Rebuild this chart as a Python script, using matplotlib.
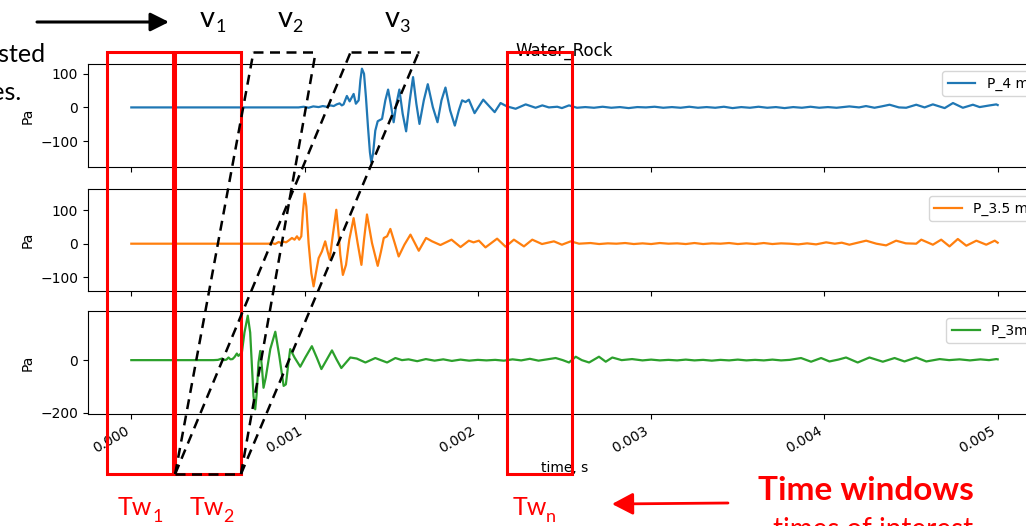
import numpy as np
import matplotlib
matplotlib.use("Agg")
import matplotlib.pyplot as plt
from matplotlib.patches import Rectangle
from matplotlib.transforms import blended_transform_factory

# ---------------------------------------------------------------------------
# Pressure traces: time in microseconds, pressure in Pa
# ---------------------------------------------------------------------------
t_p4_us = [0, 500, 965, 995, 1023, 1050, 1081, 1105, 1127, 1150,
           1168, 1185, 1202, 1215, 1225, 1244, 1260, 1283, 1296, 1312,
           1322, 1331, 1343, 1354, 1366, 1377, 1385, 1395, 1408, 1422,
           1447, 1466, 1482, 1497, 1514, 1530, 1547, 1566, 1586, 1607,
           1626, 1645, 1663, 1688, 1711, 1740, 1767, 1790, 1813, 1840,
           1867, 1890, 1909, 1929, 1948, 1981, 2031, 2097, 2131, 2168,
           2218, 2276, 2333, 2372, 2410, 2458, 2485, 2526, 2572, 2620,
           2670, 2720, 2770, 2820, 2870, 2920, 2970, 3020, 3070, 3120,
           3170, 3220, 3270, 3320, 3370, 3420, 3470, 3520, 3570, 3620,
           3670, 3720, 3770, 3820, 3870, 3920, 3970, 4020, 4070, 4144,
           4200, 4240, 4289, 4330, 4376, 4430, 4472, 4530, 4578, 4626,
           4694, 4742, 4799, 4857, 4896, 4954, 4992, 5000]
p4_pa = [0, 0, 0, 2, -1, 3, 1, 4, 2, 6,
         4, 9, 12, 6, 9, 34, 18, 40, 11, 21,
         81, 115, 100, 31, -59, -133, -163, -138, -69, -41,
         -34, 21, 53, 11, -44, 11, 53, -19, -71, 21,
         90, 11, -49, 21, 69, 1, -44, 21, 59, -9,
         -54, -9, 21, 16, 23, -17, 23, -14, 13, 3,
         -4, 9, -1, 6, 0, 2, -2, 6, -1, 1,
         -1, 2, -1, 1, -2, 1, 0, 2, -1, 1,
         -1, 2, -1, 1, -1, 2, -2, 1, -1, 2,
         -1, 1, -2, 1, -1, 2, -1, 1, -1, 3,
         0, 4, -1, 3, 8, 0, -1, 8, 0, 9,
         -2, 13, -1, 8, 1, 6, 9, 7]

t_p35_us = [0, 500, 792, 811, 830, 850, 865, 879, 893, 907,
            927, 942, 956, 969, 981, 990, 1000, 1010, 1023, 1039,
            1052, 1065, 1081, 1100, 1119, 1133, 1145, 1162, 1183, 1196,
            1206, 1221, 1239, 1258, 1283, 1306, 1328, 1343, 1360, 1389,
            1422, 1441, 1457, 1476, 1495, 1520, 1543, 1576, 1611, 1659,
            1701, 1736, 1784, 1848, 1900, 1948, 1975, 2006, 2044, 2111,
            2160, 2208, 2266, 2314, 2370, 2439, 2485, 2536, 2584, 2650,
            2700, 2750, 2800, 2850, 2900, 2950, 3000, 3050, 3100, 3150,
            3200, 3250, 3300, 3350, 3400, 3450, 3500, 3550, 3600, 3650,
            3700, 3750, 3800, 3850, 3900, 3952, 4010, 4060, 4100, 4144,
            4241, 4300, 4356, 4414, 4470, 4530, 4559, 4626, 4674, 4722,
            4770, 4819, 4877, 4934, 4983, 5000]
p35_pa = [0, 0, 0, 2, -1, 5, 2, 6, 4, 9,
          17, 12, 22, 12, 22, 91, 149, 111, 2, -88,
          -127, -88, -43, -23, 7, -23, -46, 22, 101, 32,
          -33, -93, -63, 12, 76, 2, -63, 12, 87, 2,
          -66, -23, 17, 22, 44, 2, -38, -3, 27, -21,
          17, 7, -4, 12, -10, 9, 4, 9, -11, 15,
          -9, 12, -8, 12, -1, 7, -3, 7, 0, 2,
          -1, 1, 0, 2, -1, 1, -1, 2, 0, 1,
          -1, 2, -1, 1, 0, 2, -1, 1, -1, 2,
          -1, 1, 0, -2, 1, -2, 4, 0, 3, -3,
          9, 0, -5, 9, 1, 0, 12, -3, 12, -8,
          14, -6, 9, -3, 9, 3]

t_p3_us = [0, 474, 500, 522, 535, 549, 561, 572, 584, 596,
           609, 618, 638, 653, 672, 686, 696, 705, 715, 724,
           734, 744, 753, 763, 776, 802, 831, 854, 879, 892,
           907, 917, 942, 975, 1004, 1042, 1070, 1097, 1128, 1158,
           1185, 1212, 1264, 1301, 1351, 1408, 1476, 1524, 1562, 1600,
           1650, 1700, 1750, 1800, 1850, 1900, 1950, 2000, 2050, 2100,
           2150, 2200, 2250, 2300, 2350, 2400, 2449, 2490, 2526, 2565,
           2600, 2642, 2699, 2738, 2776, 2830, 2890, 2950, 3000, 3050,
           3100, 3150, 3200, 3250, 3300, 3350, 3400, 3450, 3500, 3550,
           3600, 3650, 3700, 3750, 3800, 3865, 3923, 3981, 4029, 4080,
           4125, 4192, 4260, 4337, 4405, 4462, 4530, 4588, 4665, 4720,
           4780, 4840, 4900, 4950, 4992, 5000]
p3_pa = [0, 0, 1, 6, 0, 2, 10, 3, 4, 12,
         25, 16, 29, 105, 169, 105, -22, -136, -187, -124,
         -9, 35, -22, -105, -66, 42, 108, 16, -98, -92,
         -9, 42, 10, -25, 10, 53, 10, -34, 2, 37,
         2, -30, 10, 6, -9, 8, -9, 8, 0, 3,
         -4, 4, -2, 3, -3, 2, -2, 1, -1, 1,
         -2, 3, -1, 5, -2, 3, 8, 0, -9, 13,
         0, -9, 13, -6, 10, 0, 4, -1, 2, -1,
         1, -1, 2, -1, 1, -2, 1, -1, 2, -1,
         1, -1, 2, -1, 1, 8, -6, 8, -5, 2,
         10, -9, 10, -6, 8, -5, 10, -5, 4, 0,
         3, -1, 3, 0, 4, 3]

series_labels = ["P_4 m", "P_3.5 m", "P_3m"]
series_colors = ["tab:blue", "tab:orange", "tab:green"]
yticks = [[-100, 0, 100], [-100, 0, 100], [-200, 0]]
xticks_s = [0.000, 0.001, 0.002, 0.003, 0.004, 0.005]

# Time windows and moveout lines (microseconds)
time_windows_us = [(-139, 241), (253, 633), (2166, 2541)]
moveout_bottom_us = (253, 633)
moveout_tops_us = [(705, 1064), (1266, 1659)]

US = 1e-6

# ---------------------------------------------------------------------------
W, H = 1026, 526
fig = plt.figure(figsize=(W / 100, H / 100), dpi=100)


def frac_box(left, top, right, bottom):
    return [left / W, 1 - bottom / H, (right - left) / W, (bottom - top) / H]


ax1 = fig.add_axes(frac_box(88, 64, 1041, 167))
ax2 = fig.add_axes(frac_box(88, 189, 1041, 291), sharex=ax1)
ax3 = fig.add_axes(frac_box(88, 311, 1041, 414), sharex=ax1)
axes = [ax1, ax2, ax3]

traces = [(t_p4_us, p4_pa), (t_p35_us, p35_pa), (t_p3_us, p3_pa)]
for ax, (t, p), lab, col, yt in zip(axes, traces, series_labels,
                                     series_colors, yticks):
    ax.plot(np.array(t) * US, p, color=col, lw=1.6, label=lab)
    ax.set_yticks(yt)
    ax.set_ylabel("Pa")
    ax.legend(loc="upper right")

ax1.set_title("Water_Rock")
for ax in (ax1, ax2):
    ax.tick_params(labelbottom=False)
ax3.set_xticks(xticks_s)
for lbl in ax3.get_xticklabels():
    lbl.set_rotation(30)
    lbl.set_ha("right")
ax3.set_xlabel("time, s")

# ---------------------------------------------------------------------------
# Annotation layer in pixel coordinates
ov = fig.add_axes([0, 0, 1, 1], zorder=10)
ov.set_xlim(0, W)
ov.set_ylim(H, 0)
ov.axis("off")
ov.patch.set_alpha(0)

blend = blended_transform_factory(ax3.transData, ov.transData)
y_top, y_bot = 52, 474

for t0, t1 in time_windows_us:
    ov.add_patch(Rectangle((t0 * US, y_top), (t1 - t0) * US, y_bot - y_top,
                           transform=blend, fill=False, ec="#ff0000",
                           lw=2.2, clip_on=False))

dash = (0, (4, 2.6))
b0, b1 = moveout_bottom_us
ov.plot([b0 * US, b1 * US], [y_bot, y_bot], transform=blend, color="black",
        lw=1.8, ls=dash, clip_on=False)
for a0, a1 in moveout_tops_us:
    ov.plot([b0 * US, a0 * US], [y_bot, y_top], transform=blend,
            color="black", lw=1.8, ls=dash, clip_on=False)
    ov.plot([b1 * US, a1 * US], [y_bot, y_top], transform=blend,
            color="black", lw=1.8, ls=dash, clip_on=False)
    ov.plot([a0 * US, a1 * US], [y_top, y_top], transform=blend,
            color="black", lw=1.8, ls=dash, clip_on=False)

font = "Lato"

ov.annotate("", xy=(169, 22), xytext=(37, 22),
            arrowprops=dict(arrowstyle="-|>,head_length=0.8,head_width=0.4",
                            color="black", lw=2.2, mutation_scale=14,
                            shrinkA=0, shrinkB=0))
ov.annotate("", xy=(612, 504), xytext=(728, 503),
            arrowprops=dict(arrowstyle="-|>,head_length=0.8,head_width=0.42",
                            color="#ff0000", lw=2.0, mutation_scale=16,
                            shrinkA=0, shrinkB=0))

for x_v, x_s, sub in [(200, 216, "1"), (278, 292, "2"), (385, 399, "3")]:
    ov.text(x_v, 27, "v", fontsize=21, family=font, va="baseline")
    ov.text(x_s, 32, sub, fontsize=13, family=font, va="baseline")

ov.text(45, 62, "adjusted", fontsize=18, family=font, ha="right",
        va="baseline", clip_on=False)
ov.text(22, 100, "times.", fontsize=18, family=font, ha="right",
        va="baseline", clip_on=False)

for x_t, x_s, sub in [(118, 153, "1"), (190, 223, "2"), (513, 546, "n")]:
    ov.text(x_t, 515, "Tw", fontsize=18, family=font, color="#ff0000",
            va="baseline")
    ov.text(x_s, 522, sub, fontsize=13, family=font, color="#ff0000",
            va="baseline")

ov.text(758, 500, "Time windows", fontsize=24, family=font,
        fontweight="bold", color="#ff0000", va="baseline")
ov.text(773, 538, "times of interest", fontsize=20, family=font,
        color="#ff0000", va="baseline", clip_on=False)

fig.savefig("out.png", dpi=100)
